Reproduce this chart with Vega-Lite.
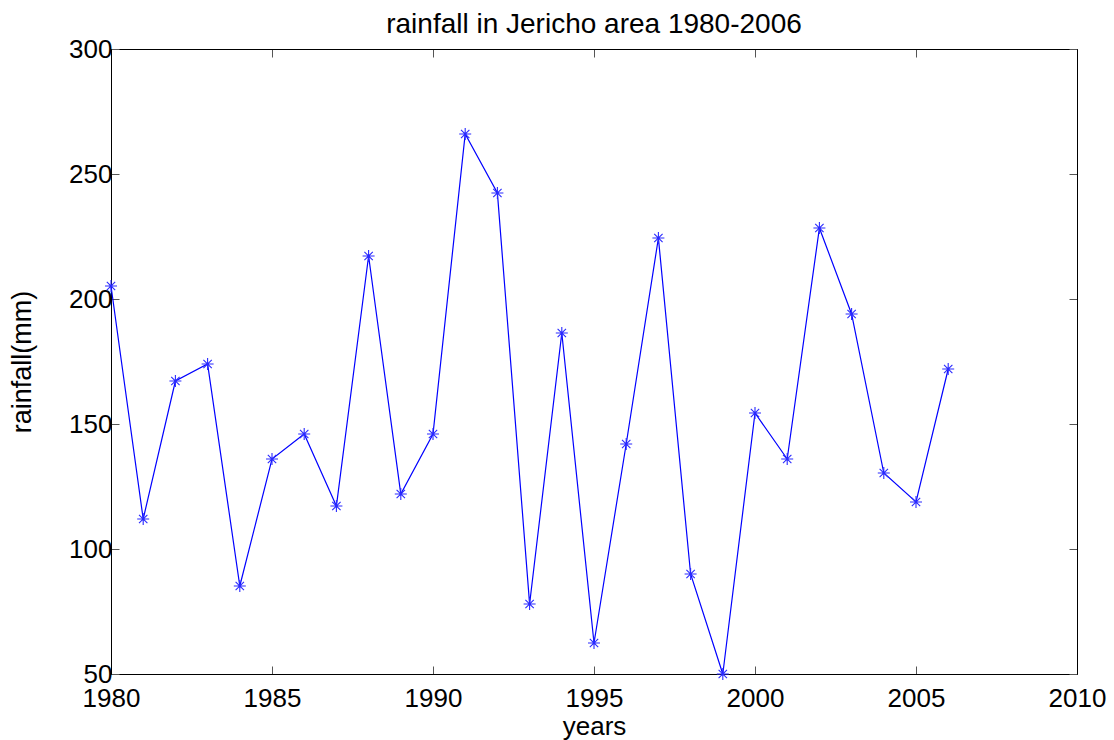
{
  "$schema": "https://vega.github.io/schema/vega-lite/v6.json",
  "width": 966,
  "height": 625,
  "autosize": "none",
  "padding": {"left": 111, "top": 49, "right": 37, "bottom": 66},
  "background": "white",
  "config": {
    "view": {"stroke": "black", "strokeWidth": 1},
    "font": "Liberation Sans"
  },
  "title": {
    "text": "rainfall in Jericho area 1980-2006",
    "fontSize": 28,
    "fontWeight": "normal",
    "color": "black",
    "offset": -3,
    "anchor": "middle",
    "font": "Liberation Sans"
  },
  "data": {
    "values": [
      {"year": 1980, "rain": 205.2},
      {"year": 1981, "rain": 112},
      {"year": 1982, "rain": 167.2},
      {"year": 1983, "rain": 174},
      {"year": 1984, "rain": 85.2},
      {"year": 1985, "rain": 136},
      {"year": 1986, "rain": 146},
      {"year": 1987, "rain": 117.2},
      {"year": 1988, "rain": 217.2},
      {"year": 1989, "rain": 122},
      {"year": 1990, "rain": 146},
      {"year": 1991, "rain": 266},
      {"year": 1992, "rain": 242.4},
      {"year": 1993, "rain": 78},
      {"year": 1994, "rain": 186.4},
      {"year": 1995, "rain": 62.4},
      {"year": 1996, "rain": 142},
      {"year": 1997, "rain": 224.4},
      {"year": 1998, "rain": 90},
      {"year": 1999, "rain": 50},
      {"year": 2000, "rain": 154.4},
      {"year": 2001, "rain": 136},
      {"year": 2002, "rain": 228.4},
      {"year": 2003, "rain": 194},
      {"year": 2004, "rain": 130.4},
      {"year": 2005, "rain": 118.8},
      {"year": 2006, "rain": 172}
    ]
  },
  "layer": [
    {
      "mark": {
        "type": "line",
        "color": "#0000ff",
        "strokeWidth": 1.2,
        "clip": false,
        "point": {
          "shape": "M-1,0L1,0M0,-1L0,1M-0.7,-0.7L0.7,0.7M-0.7,0.7L0.7,-0.7",
          "filled": false,
          "stroke": "#2a2aff",
          "strokeWidth": 1.1,
          "size": 144,
          "opacity": 1
        }
      },
      "encoding": {
        "x": {
          "field": "year",
          "type": "quantitative",
          "scale": {"domain": [1980, 2010], "nice": false, "zero": false},
          "axis": {
            "orient": "bottom",
            "title": "years",
            "titleFontSize": 26,
            "titleFontWeight": "normal",
            "titleColor": "black",
            "titlePadding": 2,
            "values": [1980, 1985, 1990, 1995, 2000, 2005, 2010],
            "format": "d",
            "labelFontSize": 26,
            "labelColor": "black",
            "labelPadding": 19,
            "tickSize": -8,
            "tickColor": "#555555",
            "domainColor": "black",
            "grid": false,
            "labelFlush": false,
            "labelOverlap": false
          }
        },
        "y": {
          "field": "rain",
          "type": "quantitative",
          "scale": {"domain": [50, 300], "nice": false, "zero": false},
          "axis": {
            "orient": "left",
            "title": "rainfall(mm)",
            "titleFontSize": 27,
            "titleFontWeight": "normal",
            "titleColor": "black",
            "titlePadding": 32,
            "values": [50, 100, 150, 200, 250, 300],
            "labelFontSize": 26,
            "labelColor": "black",
            "labelPadding": 7,
            "tickSize": -8,
            "tickColor": "#555555",
            "domainColor": "black",
            "grid": false,
            "labelFlush": false,
            "labelOverlap": false
          }
        }
      }
    },
    {
      "mark": {"type": "rule", "opacity": 0},
      "encoding": {
        "x": {
          "field": "year",
          "type": "quantitative",
          "axis": {
            "orient": "top",
            "title": null,
            "labels": false,
            "values": [1980, 1985, 1990, 1995, 2000, 2005, 2010],
            "tickSize": -8,
            "tickColor": "#555555",
            "domainColor": "black",
            "grid": false
          }
        },
        "y": {
          "field": "rain",
          "type": "quantitative",
          "axis": {
            "orient": "right",
            "title": null,
            "labels": false,
            "values": [50, 100, 150, 200, 250, 300],
            "tickSize": -8,
            "tickColor": "#555555",
            "domainColor": "black",
            "grid": false
          }
        }
      }
    }
  ],
  "resolve": {"axis": {"x": "independent", "y": "independent"}}
}
